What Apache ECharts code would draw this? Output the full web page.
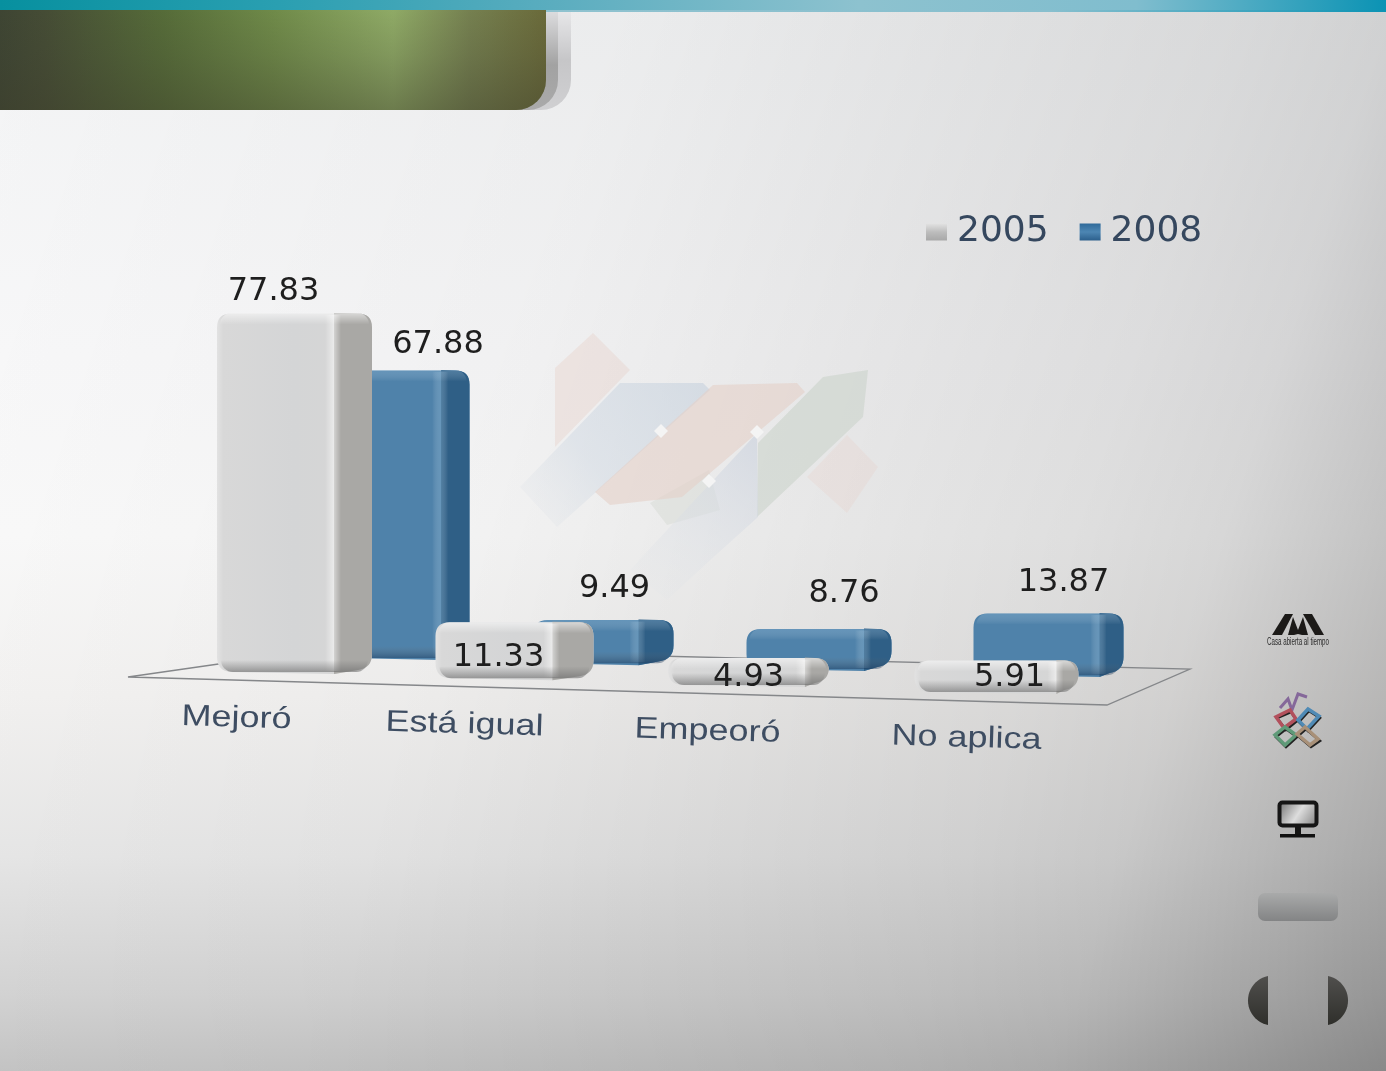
<!DOCTYPE html>
<html>
<head>
<meta charset="utf-8">
<style>
html,body{margin:0;padding:0;background:#ddd;overflow:hidden}
#chart{width:1386px;height:1071px;filter:blur(0.7px)}
</style>
<script src="https://cdn.jsdelivr.net/npm/echarts@6/dist/echarts.min.js"></script>
</head>
<body>
<div id="chart"></div>
<script>
// ---- data ----
const categories = ['Mejoró', 'Está igual', 'Empeoró', 'No aplica'];
const values2005 = [77.83, 11.33, 4.93, 5.91];
const values2008 = [67.88, 9.49, 8.76, 13.87];
const seriesNames = ['2005', '2008'];

// ---- label placement relative to each bar (center x, top y) ----
const labelNudge2005 = [[-21, -20], [-16, 37], [0, 21], [13, 19]];
const labelNudge2008 = [[36, -24], [11, -30], [25, -34], [15, -29]];
const sideFrac2005 = [.245, .26, .15, .135];
const sideFrac2008 = [.21, .25, .19, .16];
const labelShift = [-58, -50, -41, -30];

const greyPal = {
  front: {type:'linear',x:0,y:0,x2:1,y2:0,colorStops:[{offset:0,color:'#e2e2e2'},{offset:.04,color:'#d8d8d8'},{offset:.5,color:'#d4d5d6'},{offset:.85,color:'#d6d6d6'},{offset:1,color:'#dcdcdc'}]},
  side:'#a9a8a5', glow:'rgba(255,255,255,.5)', top:'rgba(255,255,255,.55)', bottom:'rgba(105,105,105,.6)'
};
const bluePal = {
  front: '#4f82aa',
  side:'#2f5f86', glow:'rgba(150,190,218,.32)', top:'rgba(150,190,220,.3)', bottom:'rgba(20,50,85,.45)'
};

function barGeometry(api, i, back) {
  const c = api.coord([i, 0]);
  const c0 = api.coord([0, 0]);
  const warp = 7 * i * (i - 1);
  const v = api.value(1);
  const px = api.size([0, v])[1];
  if (back) {
    const cx = c[0] + warp + 107.5 - 18.5 * i;
    const w = 135 + 5 * i;
    const base = c[1] - 17 + .0265 * (cx - (c0[0] + 107.5));
    return {cx, w, base, top: base - (px * .92 + 7)};
  }
  const cx = c[0] + warp;
  const w = 155 + 3 * i;
  const base = c[1] - 3 + .0284 * (cx - c0[0]);
  return {cx, w, base, top: base - (px + 8)};
}

function drawBar(g, pal, sideFrac) {
  const x0 = g.cx - g.w / 2, x1 = g.cx + g.w / 2, xj = x1 - g.w * sideFrac;
  const t = g.top, b = g.base, h = b - t;
  const r = Math.min(14, h * .5);
  const tl = t + 1.5, tr = t + 1.5, bl = b - 3, br = b - 6;
  const rf = v => v.toFixed(1);
  const outline = 'M' + rf(x0 + r) + ' ' + rf(tl) + 'L' + rf(x1 - r) + ' ' + rf(tr) +
    'Q' + rf(x1) + ' ' + rf(tr) + ' ' + rf(x1) + ' ' + rf(tr + r) +
    'L' + rf(x1) + ' ' + rf(br - r) + 'Q' + rf(x1) + ' ' + rf(br) + ' ' + rf(x1 - r) + ' ' + rf(br + 2) +
    'L' + rf(xj) + ' ' + rf(b) + 'L' + rf(x0 + r) + ' ' + rf(bl + 1) +
    'Q' + rf(x0) + ' ' + rf(bl) + ' ' + rf(x0) + ' ' + rf(bl - r) +
    'L' + rf(x0) + ' ' + rf(tl + r) + 'Q' + rf(x0) + ' ' + rf(tl) + ' ' + rf(x0 + r) + ' ' + rf(tl) + 'Z';
  const side = 'M' + rf(xj) + ' ' + rf(t + 1) + 'L' + rf(x1 - r) + ' ' + rf(tr) +
    'Q' + rf(x1) + ' ' + rf(tr) + ' ' + rf(x1) + ' ' + rf(tr + r) +
    'L' + rf(x1) + ' ' + rf(br - r) + 'Q' + rf(x1) + ' ' + rf(br) + ' ' + rf(x1 - r) + ' ' + rf(br + 2) +
    'L' + rf(xj) + ' ' + rf(b) + 'Z';
  const bev = Math.min(11, h * .36);
  return [
    {type:'path', shape:{pathData:outline}, style:{fill:pal.front}},
    {type:'path', shape:{pathData:side}, style:{fill:pal.side}},
    {type:'rect', shape:{x:xj - 9, y:t + 3, width:16, height:h - 6},
      style:{fill:{type:'linear',x:0,y:0,x2:1,y2:0,colorStops:[{offset:0,color:'rgba(255,255,255,0)'},{offset:.55,color:pal.glow},{offset:1,color:'rgba(255,255,255,0)'}]}}},
    {type:'rect', shape:{x:x0 + 3, y:t + 1.5, width:g.w - 6, height:bev, r:[r,r,0,0]},
      style:{fill:{type:'linear',x:0,y:0,x2:0,y2:1,colorStops:[{offset:0,color:pal.top},{offset:1,color:'rgba(255,255,255,0)'}]}}},
    {type:'rect', shape:{x:x0 + 4, y:b - bev - 3, width:g.w - 8, height:bev + 1, r:[0,0,r,r]},
      style:{fill:{type:'linear',x:0,y:0,x2:0,y2:1,colorStops:[{offset:0,color:'rgba(110,110,110,0)'},{offset:1,color:pal.bottom}]}}}
  ];
}

function renderBar(back) {
  return function (params, api) {
    const i = api.value(0);
    const g = barGeometry(api, i, back);
    const side = (back ? sideFrac2008 : sideFrac2005)[i];
    const nudge = (back ? labelNudge2008 : labelNudge2005)[i];
    const children = drawBar(g, back ? bluePal : greyPal, side);
    children.push({type:'text', x:g.cx + nudge[0], y:g.top + nudge[1], z2:10,
      style:{text:api.value(1).toFixed(2), fontFamily:'DejaVu Sans', fontSize:32, fill:'#1e1e1e', align:'center', verticalAlign:'middle'}});
    return {type:'group', children};
  };
}

function renderCategory(params, api) {
  const i = api.value(0);
  const c = api.coord([i, 0]);
  const c0 = api.coord([0, 0]);
  const cx = c[0] + 7 * i * (i - 1);
  const base = c[1] - 3 + .0284 * (cx - c0[0]);
  return {type:'text', x:cx + labelShift[i], y:base + 44.5, rotation:-.03, scaleX:1.2,
    style:{text:categories[i], fontFamily:'Liberation Sans', fontSize:30, fill:'#3e4d62', align:'center', verticalAlign:'middle'}};
}

const grad = (x, y, x2, y2, stops) => ({type:'linear', x, y, x2, y2,
  colorStops: stops.map(s => ({offset:s[0], color:s[1]}))});
const poly = (points, fill, extra) => Object.assign({type:'polygon', shape:{points}, style:{fill}, silent:true}, extra || {});
function arcPoints(x, yTop, yBottom, dir) {
  const cy = (yTop + yBottom) / 2, half = (yBottom - yTop) / 2, rad = 25;
  const cx = x - dir * Math.sqrt(rad * rad - half * half);
  const a = Math.asin(half / rad), pts = [];
  for (let k = 0; k <= 24; k++) {
    const ang = -a + 2 * a * k / 24;
    pts.push([cx + dir * rad * Math.cos(ang), cy + rad * Math.sin(ang)]);
  }
  return pts;
}

const decor = [
  // page shading
  {type:'rect', shape:{x:0,y:0,width:1386,height:1071}, style:{fill:grad(0,0,1.2,.5,[[0,'rgba(0,0,0,0)'],[.35,'rgba(0,0,0,.03)'],[.68,'rgba(0,0,0,.11)'],[.76,'rgba(0,0,0,.14)'],[.88,'rgba(0,0,0,.25)'],[1,'rgba(0,0,0,.36)']])}},
  // faint watermark
  poly([[555,368],[593,333],[630,370],[555,447]], 'rgba(230,200,188,.3)'),
  poly([[847,435],[878,467],[847,513],[807,477]], 'rgba(230,205,195,.25)'),
  poly([[650,503],[709,470],[720,510],[667,525]], 'rgba(210,216,208,.4)'),
  poly([[620,383],[703,383],[710,390],[557,527],[520,487]], grad(1,0,0,1,[[0,'rgba(205,214,224,.75)'],[.6,'rgba(215,222,230,.65)'],[1,'rgba(225,228,232,.12)']])),
  poly([[713,385],[797,383],[805,392],[682,497],[610,505],[595,492]], 'rgba(228,208,200,.6)'),
  poly([[823,377],[868,370],[863,417],[757,517],[758,443]], 'rgba(206,213,206,.7)'),
  poly([[757,433],[758,517],[707,563],[667,600],[630,570]], grad(1,0,0,1,[[0,'rgba(208,214,224,.8)'],[1,'rgba(225,228,232,.08)']])),
  poly([[661,424],[668,431],[661,438],[654,431]], '#f4f4f4'),
  poly([[757,425],[764,432],[757,439],[750,432]], '#f4f4f4'),
  poly([[709,474],[716,481],[709,488],[702,481]], '#f4f4f4'),
  // floor plane
  {type:'polygon', shape:{points:[[128,677],[330,648],[1190,669],[1107,705]]}, style:{fill:null, stroke:'#85878a', lineWidth:1.3}},
  // header shadows
  {type:'rect', shape:{x:500,y:10,width:71,height:100,r:[0,0,30,0]}, style:{fill:grad(0,0,0,1,[[0,'#e8e8ea'],[.5,'#c6c6c8'],[1,'#d0d0d2']])}},
  {type:'rect', shape:{x:500,y:10,width:58,height:100,r:[0,0,30,0]}, style:{fill:grad(0,0,0,1,[[0,'#dedee0'],[.55,'#a2a2a2'],[1,'#aaaaaa']])}},
  // header panel
  {type:'rect', shape:{x:0,y:10,width:546,height:100,r:[0,0,30,0]},
    style:{fill:grad(0,0,1,0,[[0,'#3e4533'],[.08,'#454c35'],[.3,'#566c39'],[.5,'#6f8a49'],[.72,'#8faa66'],[.86,'#758050'],[1,'#6a6a3a']])}},
  {type:'rect', shape:{x:0,y:10,width:546,height:100,r:[0,0,30,0]},
    style:{fill:grad(0,0,0,1,[[0,'rgba(60,60,45,0)'],[.45,'rgba(60,60,45,.16)'],[1,'rgba(60,60,42,.42)']])}},
  // top strip
  {type:'rect', shape:{x:0,y:0,width:1386,height:10}, style:{fill:grad(0,0,1,0,[[0,'#07909f'],[.2,'#2a9fb1'],[.4,'#5badbf'],[.62,'#8dc2cf'],[.82,'#80bdce'],[1,'#0b93b4']])}},
  {type:'rect', shape:{x:546,y:10,width:840,height:2}, style:{fill:grad(0,0,1,0,[[0,'#8fc2cf'],[.6,'#88bfce'],[1,'#0b93b4']])}},
  // institution logo
  poly([[1272,635],[1285,614],[1293,614],[1282,635]], '#1c1a18'),
  poly([[1288,635],[1293,617],[1298,630],[1303,617],[1308,635],[1302,635],[1298,634],[1294,635]], '#1c1a18'),
  poly([[1303,614],[1312,614],[1324,635],[1315,635]], '#1c1a18'),
  {type:'text', x:1298, y:642, scaleX:.62, style:{text:'Casa abierta al tiempo', fontFamily:'Liberation Sans', fontSize:10, fill:'#2a2a2a', align:'center', verticalAlign:'middle'}},
  // coloured icon
  {type:'polyline', shape:{points:[[1280,708],[1288,699],[1292,710],[1298,694],[1307,697]]}, style:{stroke:'#85689a', lineWidth:3, fill:null}},
  poly([[1291,712],[1297,721],[1286,730],[1277,718]], '#222', {style:{fill:null, stroke:'#222', lineWidth:2.5}}),
  poly([[1290,710],[1296,719],[1284,728],[1276,717]], 'none', {style:{fill:null, stroke:'#b2505c', lineWidth:3.5}}),
  poly([[1309,711],[1320,718],[1308,731],[1299,722]], '#222', {style:{fill:null, stroke:'#222', lineWidth:2.5}}),
  poly([[1308,709],[1319,716],[1307,729],[1298,720]], 'none', {style:{fill:null, stroke:'#4f8ab5', lineWidth:3.5}}),
  poly([[1286,729],[1297,737],[1286,747],[1276,737]], '#222', {style:{fill:null, stroke:'#222', lineWidth:2.5}}),
  poly([[1285,727],[1296,735],[1285,745],[1275,735]], 'none', {style:{fill:null, stroke:'#5f9a78', lineWidth:3.5}}),
  poly([[1306,729],[1320,741],[1311,747],[1298,736]], '#222', {style:{fill:null, stroke:'#222', lineWidth:2.5}}),
  poly([[1305,727],[1318,739],[1310,745],[1297,734]], 'none', {style:{fill:null, stroke:'#a89078', lineWidth:3.5}}),
  // screen icon
  {type:'rect', shape:{x:1279.5,y:802.5,width:37,height:23,r:3}, style:{fill:grad(0,0,1,1,[[0,'#666'],[.5,'#ddd'],[1,'#777']]), stroke:'#161616', lineWidth:4}},
  {type:'rect', shape:{x:1295,y:827,width:6,height:8}, style:{fill:'#151515'}},
  {type:'rect', shape:{x:1280,y:834,width:35,height:3.5}, style:{fill:'#111'}},
  // button and arrows
  {type:'rect', shape:{x:1258,y:893,width:80,height:28,r:7}, style:{fill:grad(0,0,0,1,[[0,'#a9aaaa'],[1,'#838485']])}},
  poly(arcPoints(1268,976,1025,-1), grad(0,0,0,1,[[0,'#504f4d'],[1,'#2f2f2b']])),
  poly(arcPoints(1328,976,1025,1), grad(0,0,0,1,[[0,'#504f4d'],[1,'#2f2f2b']]))
].map(e => Object.assign({silent:true, z:0}, e));

const chart = echarts.init(document.getElementById('chart'), null, {renderer:'canvas', width:1386, height:1071});
chart.setOption({
  animation:false,
  backgroundColor: grad(0,0,0,1,[[0,'#f2f3f4'],[.33,'#f8f8f9'],[.5,'#fafafa'],[.65,'#f4f3f2'],[.8,'#e8e8e8'],[.93,'#d5d5d5'],[1,'#c6c6c6']]),
  graphic:{elements:decor},
  legend:{
    left:926, top:214, padding:0, itemGap:31, itemWidth:21, itemHeight:17, selectedMode:false,
    textStyle:{fontFamily:'DejaVu Sans', fontSize:36, color:'#35475e', padding:[0,0,0,5]},
    data:[
      {name:seriesNames[0], icon:'rect', itemStyle:{color:grad(0,0,0,1,[[0,'#e2e2e2'],[.5,'#bdbdbd'],[1,'#a8a8a8']])}},
      {name:seriesNames[1], icon:'rect', itemStyle:{color:grad(0,0,0,1,[[0,'#2f6a9a'],[.5,'#4d86b3'],[1,'#2c5f8c']])}}
    ]
  },
  grid:{left:184.5, width:880, top:222, height:455, containLabel:false},
  xAxis:{type:'category', data:categories, show:false},
  yAxis:{type:'value', min:0, max:100, show:false},
  series:[
    {name:seriesNames[0], type:'custom', z:4, clip:false, itemStyle:{color:'#c8c8c8'}, encode:{x:0,y:1},
      renderItem:renderBar(false), data:values2005.map((v,i)=>[i,v])},
    {name:seriesNames[1], type:'custom', z:3, clip:false, itemStyle:{color:'#4f82aa'}, encode:{x:0,y:1},
      renderItem:renderBar(true), data:values2008.map((v,i)=>[i,v])},
    {name:'categorias', type:'custom', z:5, clip:false, encode:{x:0,y:1},
      renderItem:renderCategory, data:categories.map((c,i)=>[i,0])}
  ]
});
</script>
</body>
</html>
